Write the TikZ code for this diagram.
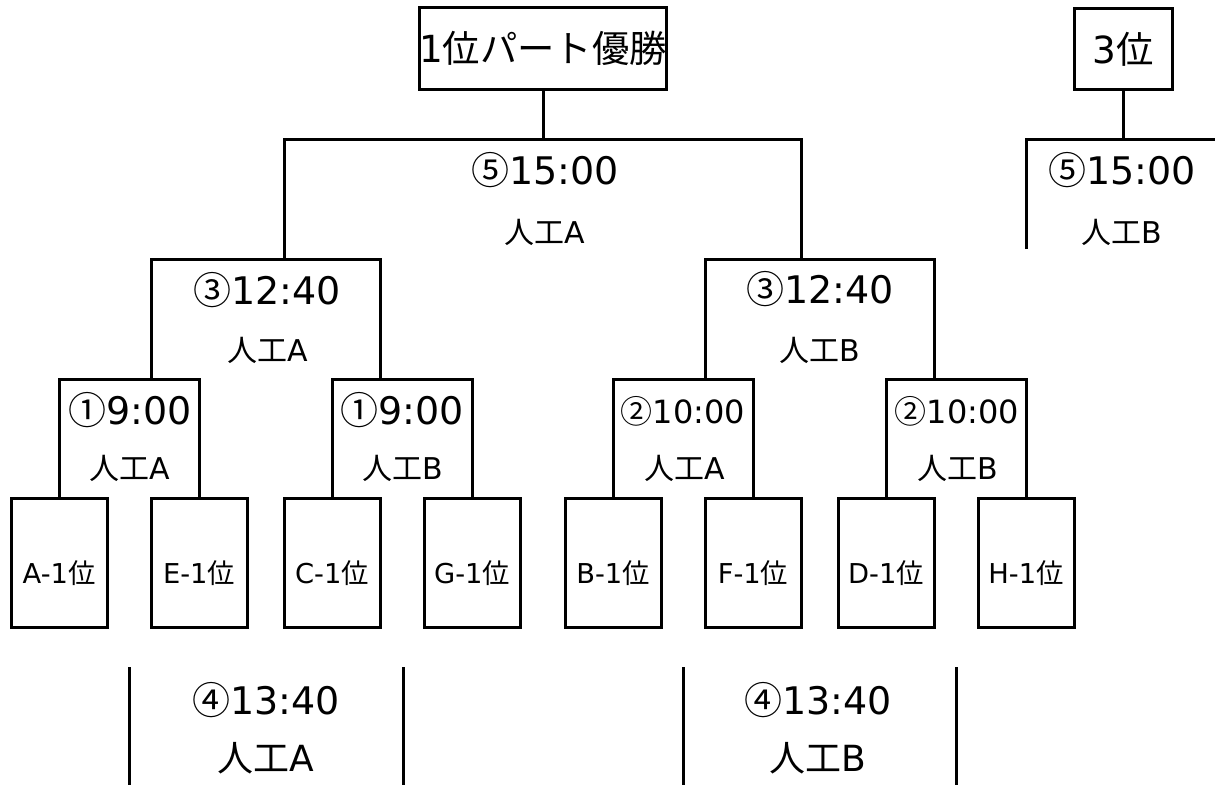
\documentclass[tikz,border=0pt]{standalone}
\usepackage{fontspec}
\setmainfont{DejaVu Sans}
\newfontfamily\jp{Noto Sans CJK JP}
\newcommand\lane[1]{{\jp 人工}#1}
\newcommand\rank{{\jp 位}}

\begin{document}
\begin{tikzpicture}[
  x=0.75pt, y=-0.75pt,
  line width=2.25pt,
  team/.style={rectangle, draw, minimum width=72pt, minimum height=96.75pt, inner sep=0pt, text height=31pt, text depth=0pt, font=\fontsize{20.5}{22}\selectfont},
  title/.style={rectangle, draw, minimum height=61pt, inner sep=0pt, font=\fontsize{28}{30}\selectfont},
  slot/.style={font=\fontsize{28.5}{30}\selectfont},
  slotsm/.style={font=\fontsize{24}{26}\selectfont},
  court/.style={font=\fontsize{22.5}{24}\selectfont},
  courtbig/.style={font=\fontsize{27}{29}\selectfont}
]
\useasboundingbox (0,0) rectangle (1215,785);

% Final and 3rd place
\node[title, minimum width=179pt] (champ) at (543,48.5) {1{\jp 位パート優勝}};
\node[title, minimum width=73.5pt] (third) at (1123,49) {3\rank};

% First round teams
\node[team] (a1) at (59,562.5) {A-1\rank};
\node[team, right of=a1, node distance=105pt] (e1) {E-1\rank};
\node[team] (c1) at (332,562.5) {C-1\rank};
\node[team, right of=c1, node distance=105pt] (g1) {G-1\rank};
\node[team] (b1) at (613,562.5) {B-1\rank};
\node[team, right of=b1, node distance=105pt] (f1) {F-1\rank};
\node[team] (d1) at (886,562.5) {D-1\rank};
\node[team, right of=d1, node distance=105pt] (h1) {H-1\rank};

% Joints
\coordinate (k1) at (151,379);
\coordinate (k2) at (380,379);
\coordinate (k3) at (705,379);
\coordinate (k4) at (934,379);
\coordinate (k5) at (284,259);
\coordinate (k6) at (801,259);
\coordinate (k7) at (543,139);
\coordinate (k8) at (1123,139);
\coordinate (t1) at (1026,249);
\coordinate (t2) at (1215,139);

% Brackets
\draw (a1.north) |- (k1) -| (e1.north);
\draw (c1.north) |- (k2) -| (g1.north);
\draw (b1.north) |- (k3) -| (f1.north);
\draw (d1.north) |- (k4) -| (h1.north);
\draw (k1) |- (k5) -| (k2);
\draw (k3) |- (k6) -| (k4);
\draw (k5) |- (k7) -| (k6);
\draw (champ.south) -- (k7);
\draw (third.south) -- (k8);
\draw (t1) |- (t2);

% Match times and courts
\node[slot] (m5) at (545,170) {{\jp ⑤}15:00};
\node[court] (c5) at (545,232) {\lane{A}};
\node[slot] (m5b) at (1122,170) {{\jp ⑤}15:00};
\node[court] (c5b) at (1122,232) {\lane{B}};

\node[slot] (m3a) at (267,290) {{\jp ③}12:40};
\node[court] (c3a) at (268,350) {\lane{A}};
\node[slot] (m3b) at (820,289) {{\jp ③}12:40};
\node[court] (c3b) at (820,350) {\lane{B}};

\node[slot] (m1a) at (130,410) {{\jp ①}9:00};
\node[court] (c1a) at (130,468) {\lane{A}};
\node[slot] (m1b) at (402,410) {{\jp ①}9:00};
\node[court] (c1b) at (403,468) {\lane{B}};
\node[slotsm] (m2a) at (683,411) {{\jp ②}10:00};
\node[court] (c2a) at (685,468) {\lane{A}};
\node[slotsm] (m2b) at (957,411) {{\jp ②}10:00};
\node[court] (c2b) at (958,468) {\lane{B}};

% 3rd round (losers)
\draw (129,667) -- (129,785);
\draw (403,667) -- (403,785);
\draw (683,667) -- (683,785);
\draw (956,667) -- (956,785);
\node[slot] (m4a) at (266,700) {{\jp ④}13:40};
\node[courtbig] (c4a) at (266,758) {\lane{A}};
\node[slot] (m4b) at (818,700) {{\jp ④}13:40};
\node[courtbig] (c4b) at (818,758) {\lane{B}};

\end{tikzpicture}
\end{document}
